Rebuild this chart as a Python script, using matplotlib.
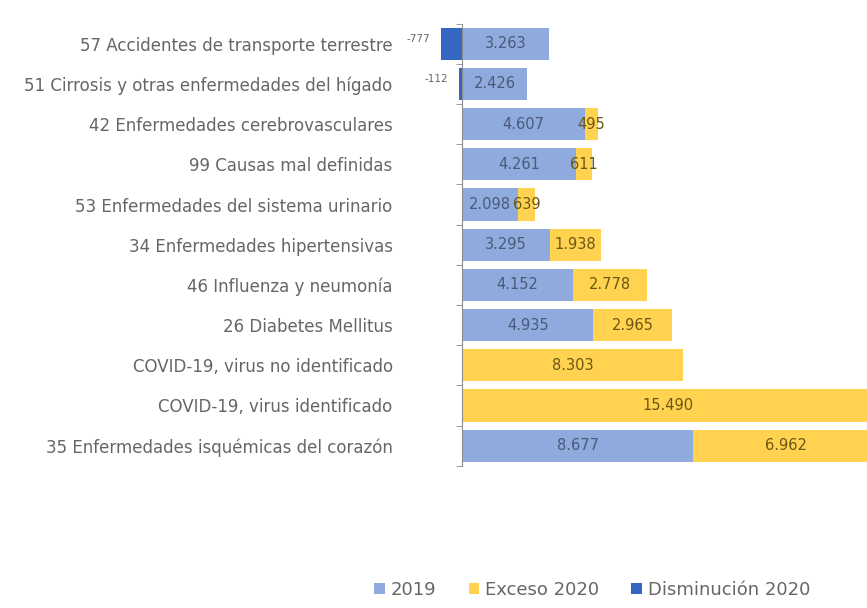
import numpy as np
import matplotlib.pyplot as plt

categorias = ['35 Enfermedades isquémicas del corazón',
              'COVID-19, virus identificado',
              'COVID-19, virus no identificado',
              '26 Diabetes Mellitus',
              '46 Influenza y neumonía',
              '34 Enfermedades hipertensivas',
              '53 Enfermedades del sistema urinario',
              '99 Causas mal definidas',
              '42 Enfermedades cerebrovasculares',
              '51 Cirrosis y otras enfermedades del hígado',
              '57 Accidentes de transporte terrestre']
base_2019 = [8677, 0, 0, 4935, 4152, 3295, 2098, 4261, 4607, 2426, 3263]
exceso_2020 = [6962, 15490, 8303, 2965, 2778, 1938, 639, 611, 495, 0, 0]
disminucion_2020 = [0, 0, 0, 0, 0, 0, 0, 0, 0, -112, -777]


def fmt(v):
    return f"{v:,}".replace(',', '.')


c_2019 = '#8FAADC'
c_exc = '#FFD34F'
c_dis = '#3566C2'
gris = '#666666'

fig = plt.figure(figsize=(8.67, 6.08), dpi=100)
ax = fig.add_axes([0.45, 0.234, 0.55, 0.727])

y = np.arange(len(categorias))
h = 0.8
b1 = ax.barh(y, base_2019, height=h, color=c_2019, label='2019')
b2 = ax.barh(y, exceso_2020, left=base_2019, height=h, color=c_exc, label='Exceso 2020')
b3 = ax.barh(y, disminucion_2020, height=h, color=c_dis, label='Disminución 2020')

for i in range(len(categorias)):
    if base_2019[i] > 0:
        ax.text(base_2019[i] / 2, y[i], fmt(base_2019[i]), ha='center', va='center',
                fontsize=10.5, color='#4A5A78')
    if exceso_2020[i] > 0:
        ax.text(base_2019[i] + exceso_2020[i] / 2, y[i], fmt(exceso_2020[i]),
                ha='center', va='center', fontsize=10.5, color='#6B5714')
    if disminucion_2020[i] < 0:
        ax.text(disminucion_2020[i] - 420, y[i] + 0.12, fmt(disminucion_2020[i]),
                ha='right', va='center', fontsize=7.5, color=gris)

s = (693 - 462) / 8677
ax.set_xlim(-(462 - 390) / s, (867 - 462) / s)
ax.set_ylim(-0.5, len(categorias) - 0.5)

for sp in ['top', 'right', 'bottom']:
    ax.spines[sp].set_visible(False)
ax.spines['left'].set_position(('data', 0))
ax.spines['left'].set_color('#8C8C8C')
ax.set_xticks([])
ax.set_yticks(y)
ax.set_yticklabels(categorias, fontsize=12, color=gris)
ax.tick_params(axis='y', which='major', length=0, pad=50)
ax.set_yticks(np.arange(-0.5, len(categorias), 1), minor=True)
ax.tick_params(axis='y', which='minor', length=4, color='#8C8C8C')

fig.legend(handles=[b1, b2, b3], labels=['2019', 'Exceso 2020', 'Disminución 2020'],
           loc='center', bbox_to_anchor=(0.683, 0.03), ncol=3, frameon=False,
           fontsize=13, handlelength=0.6, handleheight=0.6, handletextpad=0.3,
           columnspacing=1.8, labelcolor=gris)

fig.savefig('out.png', dpi=100)
